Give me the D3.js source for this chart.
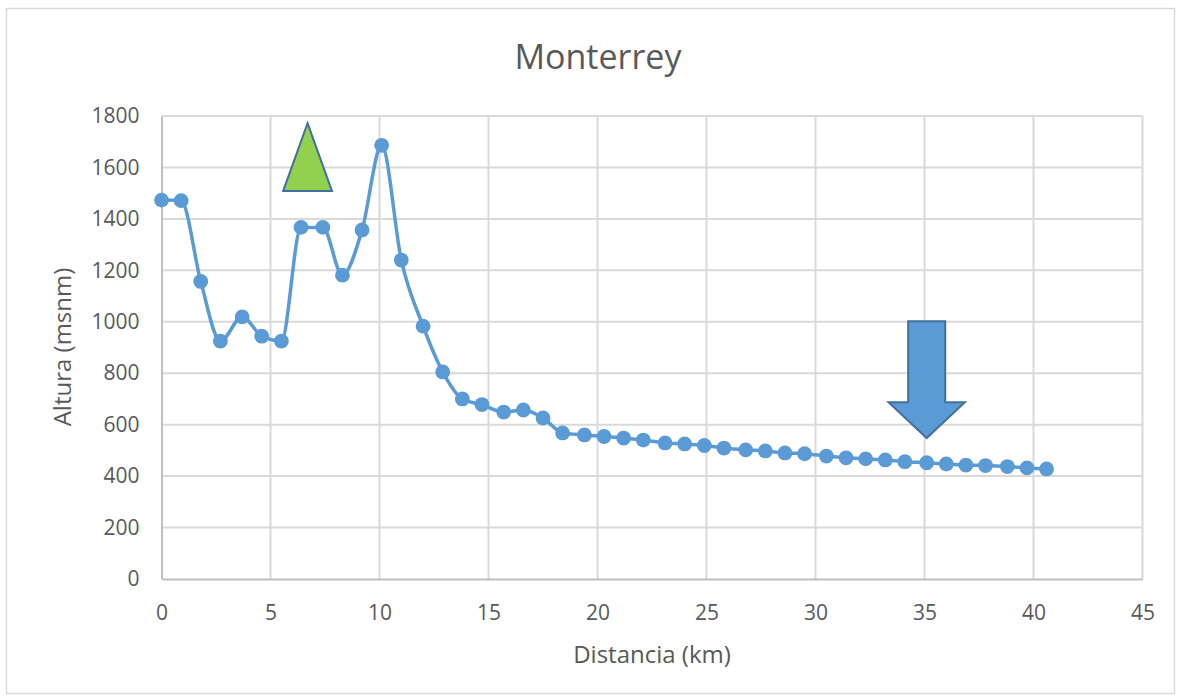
<!DOCTYPE html>
<html>
<head>
<meta charset="utf-8">
<script src="https://cdn.jsdelivr.net/npm/d3@7"></script>
<style>
  html, body { margin: 0; padding: 0; background: #fff; }
  svg { display: block; }
  text { font-family: "Open Sans", sans-serif; fill: #595959; }
</style>
</head>
<body>
<svg id="chart" width="1181" height="700"></svg>
<script>
// ---- data ----
const distanceKm = [0, 0.9, 1.8, 2.7, 3.7, 4.6, 5.5, 6.4, 7.4, 8.3, 9.2, 10.1, 11.0, 12.0, 12.9,
  13.8, 14.7, 15.7, 16.6, 17.5, 18.4, 19.4, 20.3, 21.2, 22.1, 23.1, 24.0, 24.9, 25.8, 26.8,
  27.7, 28.6, 29.5, 30.5, 31.4, 32.3, 33.2, 34.1, 35.1, 36.0, 36.9, 37.8, 38.8, 39.7, 40.6];
const altitude = [1473, 1471, 1157, 925, 1019, 944, 925, 1367, 1367, 1181, 1357, 1686, 1240, 983, 805,
  700, 678, 649, 657, 626, 568, 560, 554, 548, 540, 529, 525, 519, 509, 502,
  498, 490, 487, 478, 471, 467, 463, 456, 452, 447, 443, 441, 437, 432, 428];
const xTicks = [0, 5, 10, 15, 20, 25, 30, 35, 40, 45];
const yTicks = [0, 200, 400, 600, 800, 1000, 1200, 1400, 1600, 1800];
const chartTitle = "Monterrey";
const xTitle = "Distancia (km)";
const yTitle = "Altura (msnm)";
// annotation anchors in data units
const triangleMark = { x: 6.7, top: 1772, bottom: 1508, halfWidth: 1.12 };
const arrowMark = { x: 35.1, tip: 548, headTop: 687, shaftTop: 1002, shaftHalf: 0.85, headHalf: 1.75 };

// ---- layout ----
const svg = d3.select("#chart");
const pLeft = 161.5, pRight = 1142.5, pTop = 116, pBottom = 579;
const x = d3.scaleLinear().domain([0, 45]).range([pLeft, pRight]);
const y = d3.scaleLinear().domain([0, 1800]).range([pBottom, pTop]);

// outer border
svg.append("rect").attr("x", 6.5).attr("y", 8.5).attr("width", 1168).attr("height", 685)
  .attr("fill", "#fff").attr("stroke", "#d9d9d9").attr("stroke-width", 1.5);

// gridlines
const grid = svg.append("g");
grid.selectAll(".hg").data(yTicks.filter(d => d > 0)).join("line")
  .attr("x1", pLeft).attr("x2", pRight)
  .attr("y1", d => y(d)).attr("y2", d => y(d))
  .attr("stroke", "#d9d9d9").attr("stroke-width", 2);
grid.selectAll(".vg").data(xTicks.filter(d => d > 0)).join("line")
  .attr("y1", pTop).attr("y2", pBottom)
  .attr("x1", d => x(d)).attr("x2", d => x(d))
  .attr("stroke", "#d9d9d9").attr("stroke-width", 2);

// axes
const xAxis = svg.append("g").attr("transform", `translate(0,${pBottom})`)
  .call(d3.axisBottom(x).tickValues(xTicks).tickSize(0).tickPadding(26).tickFormat(d3.format("d")));
const yAxis = svg.append("g").attr("transform", `translate(${pLeft},0)`)
  .call(d3.axisLeft(y).tickValues(yTicks).tickSize(0).tickPadding(22).tickFormat(d3.format("d")));
[xAxis, yAxis].forEach(a => {
  a.select(".domain").attr("stroke", "#bfbfbf").attr("stroke-width", 2);
  a.selectAll("text").style("font-family", '"Open Sans", sans-serif').style("font-size", "21px").attr("fill", "#595959");
});

// line
const pts = distanceKm.map((d, i) => [d, altitude[i]]);
const line = d3.line().x(d => x(d[0])).y(d => y(d[1])).curve(d3.curveMonotoneX);
svg.append("path").datum(pts).attr("d", line)
  .attr("fill", "none").attr("stroke", "#5b9bd5").attr("stroke-width", 3.5).attr("stroke-linejoin", "round");
svg.append("g").selectAll("circle").data(pts).join("circle")
  .attr("cx", d => x(d[0])).attr("cy", d => y(d[1])).attr("r", 7.4)
  .attr("fill", "#5b9bd5");

// triangle annotation
const t = triangleMark;
svg.append("path")
  .attr("d", `M${x(t.x)},${y(t.top)} L${x(t.x + t.halfWidth)},${y(t.bottom)} L${x(t.x - t.halfWidth)},${y(t.bottom)} Z`)
  .attr("fill", "#92d050").attr("stroke", "#41719c").attr("stroke-width", 2).attr("stroke-linejoin", "miter");

// arrow annotation
const a = arrowMark;
svg.append("path")
  .attr("d", [
    `M${x(a.x - a.shaftHalf)},${y(a.shaftTop)}`,
    `L${x(a.x + a.shaftHalf)},${y(a.shaftTop)}`,
    `L${x(a.x + a.shaftHalf)},${y(a.headTop)}`,
    `L${x(a.x + a.headHalf)},${y(a.headTop)}`,
    `L${x(a.x)},${y(a.tip)}`,
    `L${x(a.x - a.headHalf)},${y(a.headTop)}`,
    `L${x(a.x - a.shaftHalf)},${y(a.headTop)}`, "Z"].join(" "))
  .attr("fill", "#5b9bd5").attr("stroke", "#41719c").attr("stroke-width", 2);

// titles
svg.append("text").attr("x", 598).attr("y", 69).attr("text-anchor", "middle")
  .style("font-size", "34px").text(chartTitle);
svg.append("text").attr("x", 652).attr("y", 663).attr("text-anchor", "middle")
  .style("font-size", "24px").text(xTitle);
svg.append("text").attr("transform", "translate(71,347) rotate(-90)").attr("text-anchor", "middle")
  .style("font-size", "24px").text(yTitle);
</script>
</body>
</html>
